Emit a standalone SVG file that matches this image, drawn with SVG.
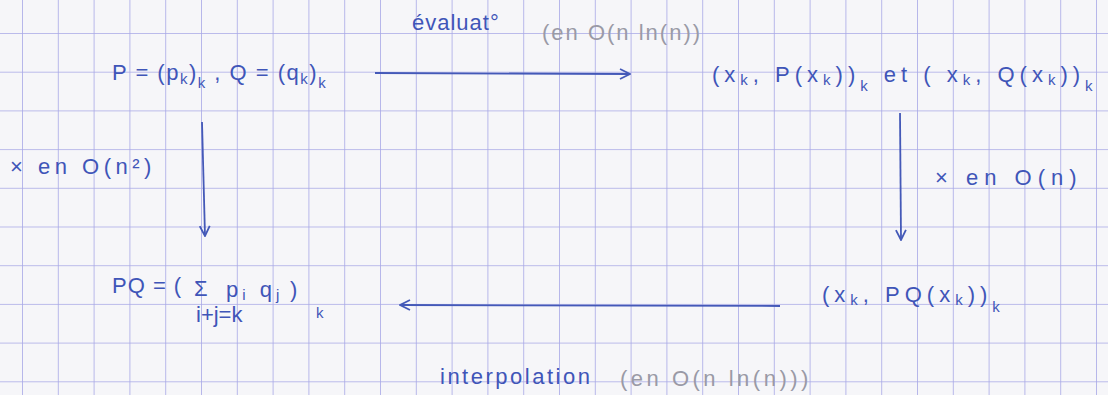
<svg xmlns="http://www.w3.org/2000/svg" width="1108" height="395" viewBox="0 0 1108 395">
<style>
.ink{font-family:"Liberation Sans",Arial,sans-serif;fill:#3f55b8;font-size:22px}
.pen{font-family:"Liberation Sans",Arial,sans-serif;fill:#9a9aa6;font-size:22px}
.sub{font-size:15px}
.edge{stroke:#4459b8;stroke-width:1.8;fill:none}
</style>
<defs>
<pattern id="grid" x="22" y="33" width="35.8" height="38.7" patternUnits="userSpaceOnUse">
<path d="M0 0V38.7M0 0H35.8" stroke="#a8a8e6" stroke-width="1.6" fill="none"/>
</pattern>
<marker id="arr" viewBox="0 0 12 12" refX="11" refY="6" markerWidth="12" markerHeight="12" markerUnits="userSpaceOnUse" orient="auto">
<path d="M1 1L11 6L1 11" stroke="#4459b8" stroke-width="1.8" fill="none"/>
</marker>
</defs>
<rect width="1108" height="395" fill="#f6f6f9"/>
<rect width="1108" height="395" fill="url(#grid)"/>

<g id="connectors">
<line class="edge" x1="375" y1="73" x2="630" y2="74" marker-end="url(#arr)"/>
<line class="edge" x1="202" y1="122" x2="205" y2="236" marker-end="url(#arr)"/>
<line class="edge" x1="900" y1="113" x2="901" y2="240" marker-end="url(#arr)"/>
<line class="edge" x1="780" y1="306" x2="400" y2="305" marker-end="url(#arr)"/>
<text class="ink" x="412" y="30" font-size="20" letter-spacing="1">évaluat°</text>
<text class="pen" x="542" y="40" letter-spacing="2">(en O(n ln(n))</text>
<text class="ink" x="10" y="174" font-size="24" letter-spacing="4.5">× en O(n²)</text>
<text class="ink" x="935" y="185" font-size="24" letter-spacing="6">× en O(n)</text>
<text class="ink" x="440" y="384" letter-spacing="2.5">interpolation</text>
<text class="pen" x="620" y="386" letter-spacing="3.5">(en O(n ln(n)))</text>
</g>

<g id="node-PQ-coeffs">
<text class="ink" x="112" y="80" font-size="24" letter-spacing="1.5">P = (p<tspan class="sub" dy="4">k</tspan><tspan dy="-4">)</tspan><tspan class="sub" dy="8">k</tspan><tspan dy="-8"> , Q = (q</tspan><tspan class="sub" dy="4">k</tspan><tspan dy="-4">)</tspan><tspan class="sub" dy="8">k</tspan></text>
</g>

<g id="node-evaluations">
<text class="ink" x="712" y="82" font-size="27" letter-spacing="5">(x<tspan class="sub" dy="3">k</tspan><tspan dy="-3">, P(x</tspan><tspan class="sub" dy="3">k</tspan><tspan dy="-3">))</tspan><tspan class="sub" dy="9">k</tspan><tspan dy="-9"> et (  x</tspan><tspan class="sub" dy="3">k</tspan><tspan dy="-3">, Q(x</tspan><tspan class="sub" dy="3">k</tspan><tspan dy="-3">))</tspan><tspan class="sub" dy="9">k</tspan></text>
</g>

<g id="node-product">
<text class="ink" x="112" y="293" font-size="24" letter-spacing="1">PQ = (</text>
<text class="ink" x="194" y="296" font-size="34">Σ</text>
<text class="ink" x="196" y="322" font-size="11">i+j=k</text>
<text class="ink" x="226" y="297" font-size="22" letter-spacing="4">p<tspan class="sub" dy="3">i</tspan><tspan dy="-3"> q</tspan><tspan class="sub" dy="3">j</tspan></text>
<text class="ink" x="290" y="297" font-size="30">)</text>
<text class="ink sub" x="316" y="318">k</text>
</g>

<g id="node-product-values">
<text class="ink" x="822" y="302" font-size="27" letter-spacing="5">(x<tspan class="sub" dy="3">k</tspan><tspan dy="-3">,  PQ(x</tspan><tspan class="sub" dy="3">k</tspan><tspan dy="-3">))</tspan><tspan class="sub" dy="10">k</tspan></text>
</g>
</svg>
